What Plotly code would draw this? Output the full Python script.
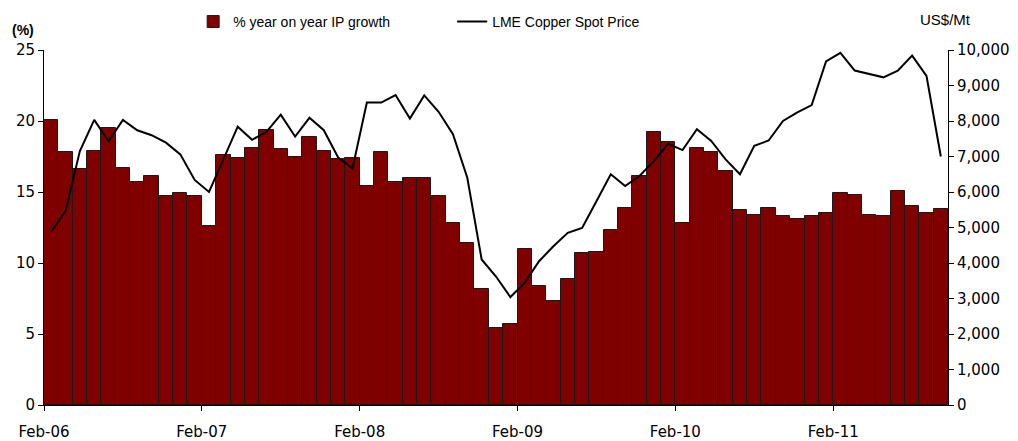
import plotly.graph_objects as go

# monthly bars, first one is Feb-06
ip_growth = [
    20.1, 17.8, 16.6, 17.9, 19.5, 16.7, 15.7, 16.1, 14.7, 14.9, 14.7,
    12.6, 17.6, 17.4, 18.1, 19.4, 18.0, 17.5, 18.9, 17.9, 17.3, 17.4,
    15.4, 17.8, 15.7, 16.0, 16.0, 14.7, 12.8, 11.4, 8.2, 5.4, 5.7,
    11.0, 8.4, 7.3, 8.9, 10.7, 10.75, 12.3, 13.9, 16.1, 19.2, 18.5,
    12.8, 18.1, 17.8, 16.5, 13.7, 13.4, 13.9, 13.3, 13.1, 13.3, 13.5,
    14.9, 14.8, 13.4, 13.3, 15.1, 14.0, 13.5, 13.8,
]
copper_price = [
    4880, 5460, 7155, 8030, 7430, 8030, 7740, 7600, 7390, 7060, 6340,
    6000, 6920, 7840, 7470, 7690, 8180, 7560, 8090, 7740, 6970, 6660,
    8520, 8520, 8730, 8070, 8720, 8260, 7630, 6400, 4100, 3620, 3040,
    3440, 4050, 4470, 4850, 4990, 5740, 6500, 6170, 6450, 6870, 7360,
    7180, 7770, 7440, 6920, 6500, 7300, 7450, 8000, 8240, 8450, 9680,
    9920, 9420, 9320, 9230, 9420, 9840, 9270, 7000,
]
tick_labels = ["Feb-06", "Feb-07", "Feb-08", "Feb-09", "Feb-10", "Feb-11"]
tick_index = [0, 11, 22, 33, 44, 55]

x = list(range(len(ip_growth)))
tick_font = dict(family="DejaVu Sans", size=15, color="#000000")
label_font = "Liberation Sans Narrow, Liberation Sans"

fig = go.Figure()
fig.add_trace(go.Bar(
    x=x, y=ip_growth, name="% year on year IP growth",
    marker=dict(color="#800000", line=dict(color="#1a1a1a", width=1)),
    width=1.0,
))
fig.add_trace(go.Scatter(
    x=x, y=copper_price, name="LME Copper Spot Price", mode="lines",
    line=dict(color="#000000", width=2), yaxis="y2",
))

fig.update_layout(
    width=1018, height=441,
    margin=dict(l=44, r=70, t=50, b=36, autoexpand=False),
    paper_bgcolor="white", plot_bgcolor="white",
    bargap=0, hovermode=False,
    showlegend=True,
    legend=dict(
        orientation="h", x=0.165, y=1.079, xanchor="left", yanchor="middle",
        font=dict(family=label_font, size=14, color="#000000"),
        entrywidth=214, entrywidthmode="pixels", bgcolor="rgba(0,0,0,0)",
    ),
    xaxis=dict(
        range=[-0.5, len(x) - 0.5],
        tickmode="array", tickvals=[i - 0.5 for i in tick_index], ticktext=tick_labels,
        ticks="outside", ticklen=5, tickcolor="#000000",
        showline=True, linecolor="#000000", linewidth=1,
        showgrid=False, zeroline=False, tickfont=tick_font,
        ticklabelstandoff=8, automargin=False,
    ),
    yaxis=dict(
        range=[0, 25], dtick=5, ticks="outside", ticklen=5, tickcolor="#000000",
        showline=True, linecolor="#000000", linewidth=1,
        showgrid=False, zeroline=False, tickfont=tick_font, automargin=False,
    ),
    yaxis2=dict(
        range=[0, 10000], dtick=1000, tickformat=",", overlaying="y", side="right",
        ticks="outside", ticklen=5, tickcolor="#000000",
        showline=True, linecolor="#000000", linewidth=1,
        showgrid=False, zeroline=False, tickfont=tick_font, automargin=False,
    ),
    annotations=[
        dict(text="<b>(%)</b>", xref="paper", yref="paper", x=-0.038, y=1.056,
             xanchor="left", yanchor="middle", showarrow=False,
             font=dict(family=label_font, size=14, color="#000000")),
        dict(text="US$/Mt", xref="paper", yref="paper", x=0.967, y=1.085,
             xanchor="left", yanchor="middle", showarrow=False,
             font=dict(family=label_font, size=15, color="#000000")),
    ],
)

fig.write_html(
    "out.html",
    config={"displayModeBar": False},
    post_script="document.body.style.margin = '0';",
)
